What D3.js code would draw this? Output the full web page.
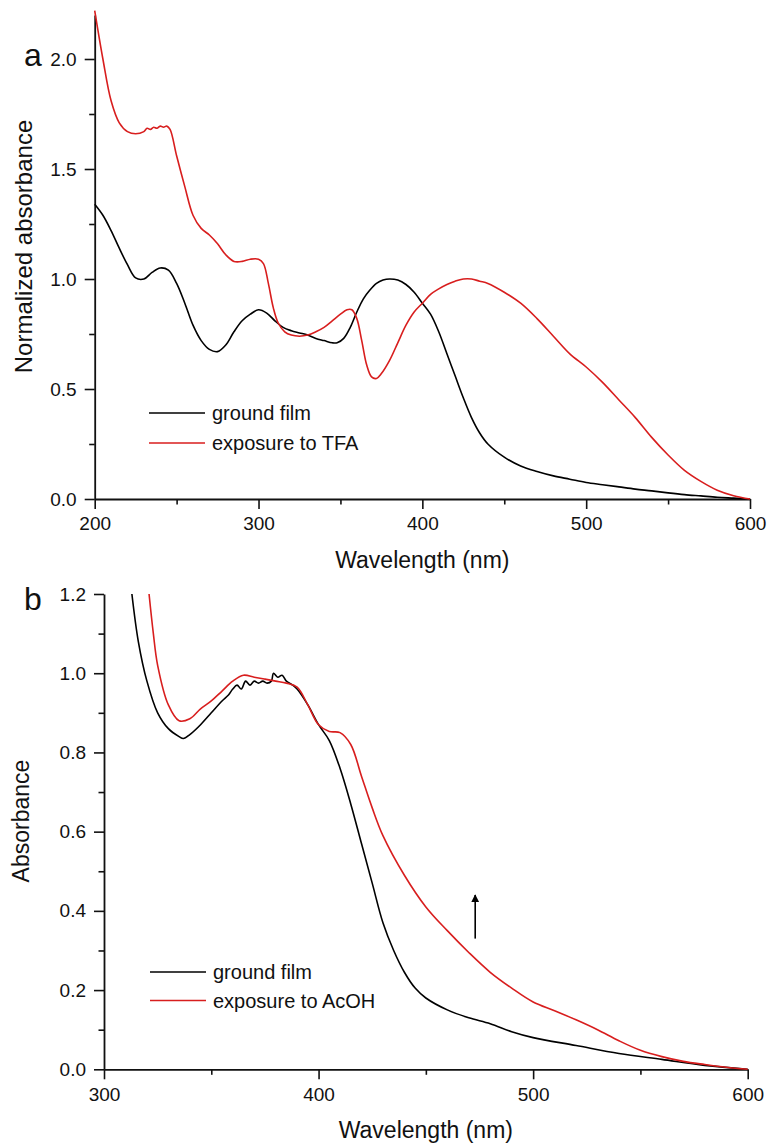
<!DOCTYPE html>
<html>
<head>
<meta charset="utf-8">
<script src="https://cdn.jsdelivr.net/npm/d3@7"></script>
<style>
  html, body { margin: 0; padding: 0; background: #fff; }
  svg { display: block; font-family: "Liberation Sans", Arial, sans-serif; }
</style>
</head>
<body>
<svg id="chart" width="770" height="1146"></svg>
<script>
// ---------- Panel a data ----------
const aWave = [200,205,210,215,220,225,230,235,240,245,250,255,260,265,270,275,280,285,290,295,300,305,310,315,320,325,330,335,340,345,348,352,356,360,364,368,372,376,380,385,390,395,400,405,410,415,420,425,430,435,440,450,460,470,480,490,500,510,520,530,540,550,560,570,580,590,600];
const aGround = [1.34,1.29,1.22,1.14,1.065,1.005,1.0,1.03,1.05,1.04,0.98,0.89,0.79,0.72,0.68,0.67,0.70,0.76,0.81,0.84,0.86,0.845,0.81,0.78,0.765,0.755,0.745,0.73,0.72,0.71,0.71,0.73,0.78,0.85,0.91,0.95,0.98,0.995,1.0,0.995,0.975,0.94,0.89,0.84,0.76,0.66,0.56,0.46,0.37,0.30,0.25,0.19,0.15,0.125,0.105,0.09,0.075,0.065,0.055,0.045,0.037,0.028,0.02,0.014,0.008,0.004,0.0];
const aWaveTFA = [200,205,210,215,220,225,230,232,234,236,238,240,242,244,246,250,255,260,265,270,275,280,285,290,295,300,303,306,309,312,316,320,325,330,335,340,345,350,354,357,360,363,366,369,372,375,380,385,390,395,400,405,410,415,420,425,430,435,440,450,460,470,480,490,500,510,520,530,540,550,560,570,580,590,600];
const aTFA = [2.22,2.00,1.81,1.71,1.67,1.66,1.67,1.685,1.68,1.69,1.685,1.695,1.69,1.695,1.68,1.56,1.42,1.29,1.23,1.20,1.16,1.11,1.08,1.08,1.09,1.09,1.07,0.98,0.87,0.80,0.76,0.745,0.74,0.745,0.76,0.78,0.81,0.84,0.86,0.86,0.82,0.72,0.61,0.555,0.548,0.57,0.63,0.71,0.79,0.85,0.89,0.93,0.955,0.975,0.99,1.0,1.0,0.99,0.98,0.94,0.89,0.82,0.74,0.66,0.60,0.53,0.45,0.37,0.28,0.20,0.13,0.08,0.04,0.015,0.0];

// ---------- Panel b data ----------
const bWaveGround = [313,316,320,325,330,335,337,340,345,350,355,358,360,362,364,366,368,370,372,374,376,378,379,381,383,385,388,390,395,400,405,410,415,420,425,430,435,440,445,450,460,470,480,490,500,520,540,560,580,600];
const bGround = [1.20,1.08,0.98,0.90,0.86,0.84,0.835,0.845,0.87,0.90,0.93,0.945,0.96,0.97,0.96,0.98,0.97,0.98,0.975,0.98,0.975,0.98,1.0,0.99,0.995,0.98,0.97,0.96,0.92,0.87,0.83,0.76,0.67,0.57,0.47,0.37,0.30,0.245,0.205,0.18,0.15,0.13,0.115,0.095,0.08,0.06,0.04,0.025,0.01,0.0];
const bWaveAcOH = [321,323,325,330,335,340,345,350,355,360,365,370,375,380,385,390,395,400,405,410,415,420,425,430,440,450,460,470,480,490,500,510,520,530,540,550,560,570,580,590,600];
const bAcOH = [1.20,1.10,1.02,0.92,0.88,0.885,0.91,0.93,0.955,0.98,0.995,0.99,0.985,0.98,0.975,0.965,0.92,0.87,0.853,0.85,0.82,0.74,0.66,0.59,0.49,0.41,0.35,0.295,0.245,0.205,0.17,0.148,0.125,0.10,0.072,0.048,0.032,0.02,0.012,0.005,0.0];
const arrowWave = 473;
const arrowAbs = [0.33, 0.44];

// ---------- tick labels ----------
const aXTicks = [200,300,400,500,600];
const aYTicks = [0.0,0.5,1.0,1.5,2.0];
const bXTicks = [300,400,500,600];
const bYTicks = [0.0,0.2,0.4,0.6,0.8,1.0,1.2];

const labelsA = ["ground film", "exposure to TFA"];
const labelsB = ["ground film", "exposure to AcOH"];

const RED = "#d81e1e";
const svg = d3.select("#chart");

function panel(opts) {
  const g = svg.append("g");
  const x = d3.scaleLinear().domain(opts.xDomain).range(opts.xRange);
  const y = d3.scaleLinear().domain(opts.yDomain).range(opts.yRange);

  const xMinor = d3.axisBottom(x).tickValues(opts.xMinor).tickSize(5.5).tickFormat("");
  const yMinor = d3.axisLeft(y).tickValues(opts.yMinor).tickSize(5.5).tickFormat("");
  g.append("g").attr("transform", `translate(0,${opts.yRange[0]})`).call(xMinor).call(s => s.select(".domain").remove());
  g.append("g").attr("transform", `translate(${opts.xRange[0]},0)`).call(yMinor).call(s => s.select(".domain").remove());

  const xAxis = d3.axisBottom(x).tickValues(opts.xTicks).tickSize(10).tickSizeOuter(0).tickPadding(8).tickFormat(d3.format("d"));
  const yAxis = d3.axisLeft(y).tickValues(opts.yTicks).tickSize(10).tickSizeOuter(0).tickPadding(8).tickFormat(d3.format(".1f"));
  const gx = g.append("g").attr("transform", `translate(0,${opts.yRange[0]})`).call(xAxis);
  const gy = g.append("g").attr("transform", `translate(${opts.xRange[0]},0)`).call(yAxis);
  [gx, gy].forEach(s => {
    s.selectAll("text").attr("font-size", 19).attr("font-family", "Liberation Sans, Arial, sans-serif").attr("fill", "#111");
  });
  g.selectAll(".tick line").attr("stroke", "#111").attr("stroke-width", 1.6);
  g.selectAll(".domain").attr("stroke", "#111").attr("stroke-width", 1.8);

  const line = d3.line().x(d => x(d[0])).y(d => y(d[1])).curve(d3.curveCatmullRom.alpha(0.5));
  opts.series.forEach(s => {
    g.append("path")
      .datum(d3.zip(s.x, s.y))
      .attr("fill", "none")
      .attr("stroke", s.color)
      .attr("stroke-width", 1.6)
      .attr("stroke-linejoin", "round")
      .attr("d", line);
  });

  opts.legend.forEach((l, i) => {
    const ly = opts.legendY + i * opts.legendGap;
    g.append("line").attr("x1", opts.legendX).attr("x2", opts.legendX + 56)
      .attr("y1", ly).attr("y2", ly).attr("stroke", l.color).attr("stroke-width", 1.6);
    g.append("text").attr("x", opts.legendX + 63).attr("y", ly).attr("dy", "0.35em")
      .attr("font-size", 20).attr("fill", "#111").text(l.label);
  });

  g.append("text").attr("x", (opts.xRange[0] + opts.xRange[1]) / 2).attr("y", opts.xTitleY)
    .attr("text-anchor", "middle").attr("font-size", 23).attr("fill", "#111").text("Wavelength (nm)");
  g.append("text").attr("transform", `translate(${opts.yTitleX},${opts.yTitleCY}) rotate(-90)`)
    .attr("text-anchor", "middle").attr("font-size", opts.yTitleSize).attr("fill", "#111").text(opts.yTitle);
  g.append("text").attr("x", opts.tagX).attr("y", opts.tagY).attr("font-size", 32).attr("fill", "#111").text(opts.tag);
  return {x, y, g};
}

panel({
  xDomain: [200, 600], xRange: [94.7, 750],
  yDomain: [0, 2.2], yRange: [499, 15],
  xTicks: aXTicks, yTicks: aYTicks,
  xMinor: [250,350,450,550], yMinor: [0.25,0.75,1.25,1.75],
  series: [
    {x: aWave, y: aGround, color: "#000"},
    {x: aWaveTFA, y: aTFA, color: RED}
  ],
  legend: [{label: labelsA[0], color: "#000"}, {label: labelsA[1], color: RED}],
  legendX: 149, legendY: 413, legendGap: 30,
  xTitleY: 568, yTitle: "Normalized absorbance", yTitleX: 32, yTitleCY: 246.5, yTitleSize: 24,
  tag: "a", tagX: 24, tagY: 66
});

const pb = panel({
  xDomain: [300, 600], xRange: [104, 747.7],
  yDomain: [0, 1.2], yRange: [1069.3, 594],
  xTicks: bXTicks, yTicks: bYTicks,
  xMinor: [350,450,550], yMinor: [0.1,0.3,0.5,0.7,0.9,1.1],
  series: [
    {x: bWaveGround, y: bGround, color: "#000"},
    {x: bWaveAcOH, y: bAcOH, color: RED}
  ],
  legend: [{label: labelsB[0], color: "#000"}, {label: labelsB[1], color: RED}],
  legendX: 150, legendY: 972, legendGap: 28.5,
  xTitleY: 1138, yTitle: "Absorbance", yTitleX: 29, yTitleCY: 821, yTitleSize: 23,
  tag: "b", tagX: 24, tagY: 610
});

const defs = svg.append("defs");
defs.append("marker").attr("id", "ah").attr("viewBox", "0 0 10 10").attr("refX", 9).attr("refY", 5)
  .attr("markerWidth", 5).attr("markerHeight", 6).attr("markerUnits", "strokeWidth").attr("orient", "auto")
  .append("path").attr("d", "M0,0 L10,5 L0,10 Z").attr("fill", "#000");
pb.g.append("line")
  .attr("x1", pb.x(arrowWave)).attr("x2", pb.x(arrowWave))
  .attr("y1", pb.y(arrowAbs[0])).attr("y2", pb.y(arrowAbs[1]))
  .attr("stroke", "#000").attr("stroke-width", 1.6).attr("marker-end", "url(#ah)");
</script>
</body>
</html>
